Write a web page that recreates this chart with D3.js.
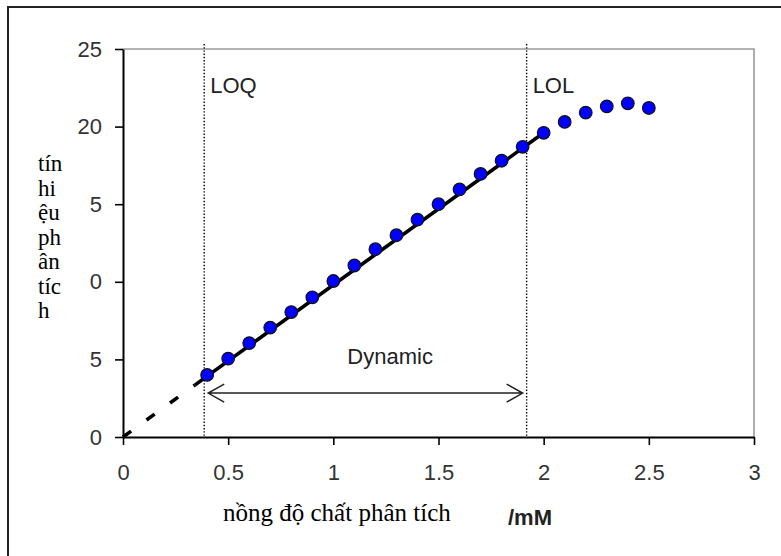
<!DOCTYPE html>
<html>
<head>
<meta charset="utf-8">
<script src="https://cdn.jsdelivr.net/npm/d3@7"></script>
<style>
  html, body { margin: 0; padding: 0; background: #fff; }
  svg { display: block; }
</style>
</head>
<body>
<script>
// calibration data
const concentration = [0.4, 0.5, 0.6, 0.7, 0.8, 0.9, 1.0, 1.1, 1.2, 1.3, 1.4,
  1.5, 1.6, 1.7, 1.8, 1.9, 2.0, 2.1, 2.2, 2.3, 2.4, 2.5];
const signal = [4.0, 5.05, 6.05, 7.05, 8.05, 9.0, 10.05, 11.05, 12.1, 13.0, 14.0,
  15.0, 15.95, 16.95, 17.8, 18.7, 19.6, 20.3, 20.9, 21.3, 21.5, 21.2];

// fitted line: dashed extrapolation, then solid over the linear part
const fitDashed = [[0, 0], [0.343, 3.36]];
const fitSolid = [[0.343, 3.36], [2.0, 19.6]];

const limitNames = ["LOQ", "LOL"];
const limitPositions = [0.386, 1.919];

const xTickValues = [0, 0.5, 1, 1.5, 2, 2.5, 3];
const xTickLabels = ["0", "0.5", "1", "1.5", "2", "2.5", "3"];
const yTickValues = [0, 5, 10, 15, 20, 25];
const yTickLabels = ["0", "5", "10", "15", "20", "25"];

const yLabelLines = ["tín", "hi", "ệu", "ph", "ân", "tíc", "h"];
const xLabel = "nồng độ chất phân tích";
const unitLabel = "/mM";

const width = 781, height = 556;
const sans = "'Liberation Sans', Arial, sans-serif";
const serif = "'Liberation Serif', 'Times New Roman', serif";

const svg = d3.select("body").append("svg")
  .attr("width", width)
  .attr("height", height);

svg.append("rect").attr("width", width).attr("height", height).attr("fill", "#fff");

// outer frame (right and bottom edges fall outside the picture)
svg.append("rect")
  .attr("x", 8).attr("y", 7)
  .attr("width", 820).attr("height", 600)
  .attr("fill", "none")
  .attr("stroke", "#222")
  .attr("stroke-width", 2);

const x = d3.scaleLinear().domain([0, 3]).range([123, 754]);
const y = d3.scaleLinear().domain([0, 25]).range([437, 49]);

// grey top/right border of plot area
svg.append("path")
  .attr("d", `M${x(0)},${y(25)}H${x(3)}V${y(0)}`)
  .attr("fill", "none")
  .attr("stroke", "#9a9a9a")
  .attr("stroke-width", 1.6);

// axes
const xAxis = svg.append("g")
  .attr("transform", `translate(0,${y(0)})`)
  .call(d3.axisBottom(x).tickValues(xTickValues)
    .tickFormat((d, i) => xTickLabels[i]).tickSize(8).tickPadding(19).tickSizeOuter(0));

const yAxis = svg.append("g")
  .attr("transform", `translate(${x(0)},0)`)
  .call(d3.axisLeft(y).tickValues(yTickValues)
    .tickFormat((d, i) => yTickLabels[i]).tickSize(8).tickPadding(13).tickSizeOuter(0));

[xAxis, yAxis].forEach(g => {
  g.select(".domain").attr("stroke", "#000").attr("stroke-width", 2);
  g.selectAll(".tick line").attr("stroke", "#000").attr("stroke-width", 1.6);
  g.selectAll(".tick text")
    .attr("fill", "#333")
    .style("font-family", sans)
    .style("font-size", "22px");
});

// LOQ / LOL dotted lines
svg.append("g")
  .selectAll("line")
  .data(limitPositions)
  .join("line")
    .attr("x1", d => x(d)).attr("x2", d => x(d))
    .attr("y1", y(25) - 5).attr("y2", y(0))
    .attr("stroke", "#000")
    .attr("stroke-width", 1.4)
    .attr("stroke-dasharray", "1.4 1.8");

svg.append("g")
  .selectAll("text")
  .data(limitNames)
  .join("text")
    .attr("x", (d, i) => x(limitPositions[i]) + 6)
    .attr("y", 93)
    .attr("fill", "#222")
    .style("font-family", sans)
    .style("font-size", "22px")
    .text(d => d);

// dynamic range arrow
const arrowY = y(2.83);
const ax0 = x(limitPositions[0]) + 4, ax1 = x(limitPositions[1]) - 4;
svg.append("path")
  .attr("d", `M${ax0},${arrowY}H${ax1}` +
    `M${ax0 + 16},${arrowY - 9}L${ax0},${arrowY}L${ax0 + 16},${arrowY + 9}` +
    `M${ax1 - 16},${arrowY - 9}L${ax1},${arrowY}L${ax1 - 16},${arrowY + 9}`)
  .attr("fill", "none")
  .attr("stroke", "#222")
  .attr("stroke-width", 1.5);

svg.append("text")
  .attr("x", x(1.27))
  .attr("y", y(4.7))
  .attr("text-anchor", "middle")
  .attr("fill", "#222")
  .style("font-family", sans)
  .style("font-size", "22px")
  .text("Dynamic");

// fitted line
const line = d3.line().x(d => x(d[0])).y(d => y(d[1]));
svg.append("path")
  .attr("d", line(fitDashed))
  .attr("fill", "none")
  .attr("stroke", "#000")
  .attr("stroke-width", 3.6)
  .attr("stroke-dasharray", "10 19");
svg.append("path")
  .attr("d", line(fitSolid))
  .attr("fill", "none")
  .attr("stroke", "#000")
  .attr("stroke-width", 3.6);

// points
svg.append("g")
  .selectAll("circle")
  .data(concentration)
  .join("circle")
    .attr("cx", d => x(d))
    .attr("cy", (d, i) => y(signal[i]))
    .attr("r", 6.3)
    .attr("fill", "#0000ff")
    .attr("stroke", "#111")
    .attr("stroke-width", 1.2);

// unit of the (mostly covered) original x title
svg.append("text")
  .attr("x", 552)
  .attr("y", 525)
  .attr("text-anchor", "end")
  .attr("fill", "#222")
  .style("font-family", sans)
  .style("font-size", "22px")
  .style("font-weight", "bold")
  .text(unitLabel);

// pasted-over white boxes with the Vietnamese titles
svg.append("rect")
  .attr("x", 13).attr("y", 134)
  .attr("width", 77).attr("height", 196)
  .attr("fill", "#fff");

svg.append("text")
  .attr("x", 38)
  .attr("fill", "#000")
  .style("font-family", serif)
  .style("font-size", "23px")
  .selectAll("tspan")
  .data(yLabelLines)
  .join("tspan")
    .attr("x", 38)
    .attr("y", (d, i) => 171 + i * 24.5)
    .text(d => d);

svg.append("rect")
  .attr("x", 205).attr("y", 488)
  .attr("width", 292).attr("height", 50)
  .attr("fill", "#fff");

svg.append("text")
  .attr("x", 223)
  .attr("y", 521)
  .attr("fill", "#000")
  .style("font-family", serif)
  .style("font-size", "25px")
  .text(xLabel);
</script>
</body>
</html>
